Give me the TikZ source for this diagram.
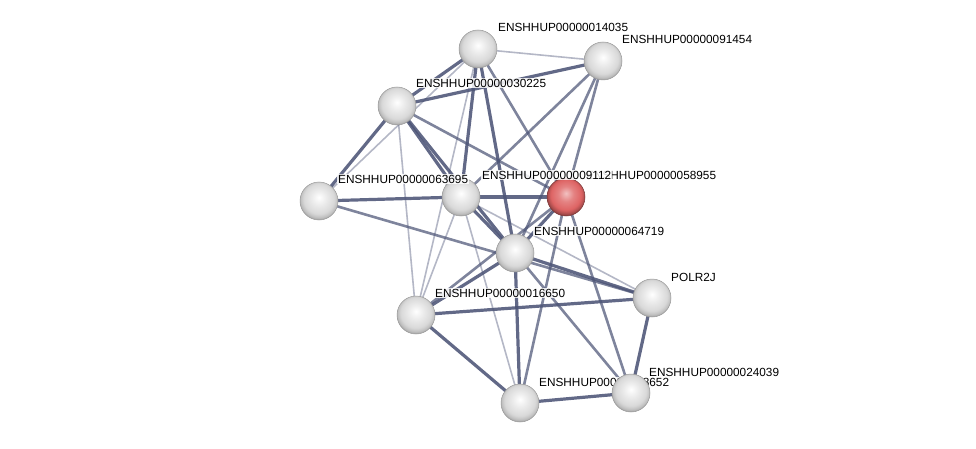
\documentclass[tikz,border=0pt]{standalone}
\usepackage{fontspec}
\setmainfont{Liberation Sans}
\pgfdeclarelayer{background}
\pgfsetlayers{background,main}
\definecolor{edgecol}{RGB}{76,84,118}
\definecolor{qred}{RGB}{222,100,100}
\pgfdeclareradialshading{protball}{\pgfpoint{0bp}{5bp}}{%
  color(0bp)=(white); color(10bp)=(gray!16); color(20bp)=(gray!30);
  color(24bp)=(gray!48); color(27bp)=(gray!70); color(50bp)=(gray!75)}
\pgfdeclareradialshading{queryball}{\pgfpoint{0bp}{5bp}}{%
  color(0bp)=(qred!40!white); color(10bp)=(qred!80!white); color(20bp)=(qred);
  color(24bp)=(qred!80!black); color(27bp)=(qred!60!black); color(50bp)=(qred!55!black)}
\newcommand{\lbfont}{\fontsize{11.8}{14}\selectfont}
\tikzset{
  prot/.style = {circle, minimum size=38pt, inner sep=0pt, shading=protball,
                 draw=gray!80, line width=0.5pt},
  query/.style = {prot, shading=queryball, draw=qred!55!black},
  lbl/.style = {anchor=west, inner sep=1pt, fill=white, fill opacity=0.85,
                text opacity=1, font=\lbfont},
  strong/.style = {draw=edgecol, line width=3.2pt, draw opacity=0.88},
  medium/.style = {draw=edgecol, line width=2.6pt, draw opacity=0.72},
  weak/.style = {draw=edgecol, line width=1.6pt, draw opacity=0.42}
}
\begin{document}
\begin{tikzpicture}[x=1pt, y=-1pt]
      \useasboundingbox (0,0) rectangle (976,449);
      % hidden label
      \node [lbl] (lj) at (538, 382) {ENSHHUP00000018652};
      % proteins
      \node [prot] (a) at (478, 49) {};
      \node [prot] (b) at (603, 61) {};
      \node [prot] (c) at (397, 106) {};
      \node [prot] (d) at (319, 201) {};
      \node [prot] (e) at (461, 197) {};
      \node [query] (f) at (566, 197) {};
      \node [prot] (g) at (515, 253) {};
      \node [prot] (h) at (652, 298) {};
      \node [prot] (i) at (416, 315) {};
      \node [prot] (j) at (520, 403) {};
      \node [prot] (k) at (631, 393) {};
      % labels
      \node [lbl] (la) at (497, 27) {ENSHHUP00000014035};
      \node [lbl] (lb) at (621, 39) {ENSHHUP00000091454};
      \node [lbl] (lc) at (415, 83) {ENSHHUP00000030225};
      \node [lbl] (ld) at (337, 179) {ENSHHUP00000063695};
      \node [lbl] (lf) at (585, 175) {ENSHHUP00000058955};
      \node [lbl] (le) at (481, 175) {ENSHHUP00000009112};
      \node [lbl] (lg) at (533, 231) {ENSHHUP00000064719};
      \node [lbl] (lh) at (670, 277) {POLR2J};
      \node [lbl] (li) at (434, 293) {ENSHHUP00000016650};
      \node [lbl] (lk) at (648, 372) {ENSHHUP00000024039};
      % interactions
      \begin{pgfonlayer}{background}
        \foreach \p/\q in {a/c, a/e, a/g, b/c, c/d, c/e, c/g, d/e, e/f, e/g,
                           f/g, g/h, g/i, g/j, i/h, i/j, j/k, h/k}
          \draw [strong] (\p.center) -- (\q.center);
        \foreach \p/\q in {a/f, b/e, b/g, b/f, c/f, d/h, f/i, f/j, f/k, g/k}
          \draw [medium] (\p.center) -- (\q.center);
        \foreach \p/\q in {a/b, a/d, a/i, c/i, e/i, e/j, e/h}
          \draw [weak] (\p.center) -- (\q.center);
      \end{pgfonlayer}
    \end{tikzpicture}
\end{document}
